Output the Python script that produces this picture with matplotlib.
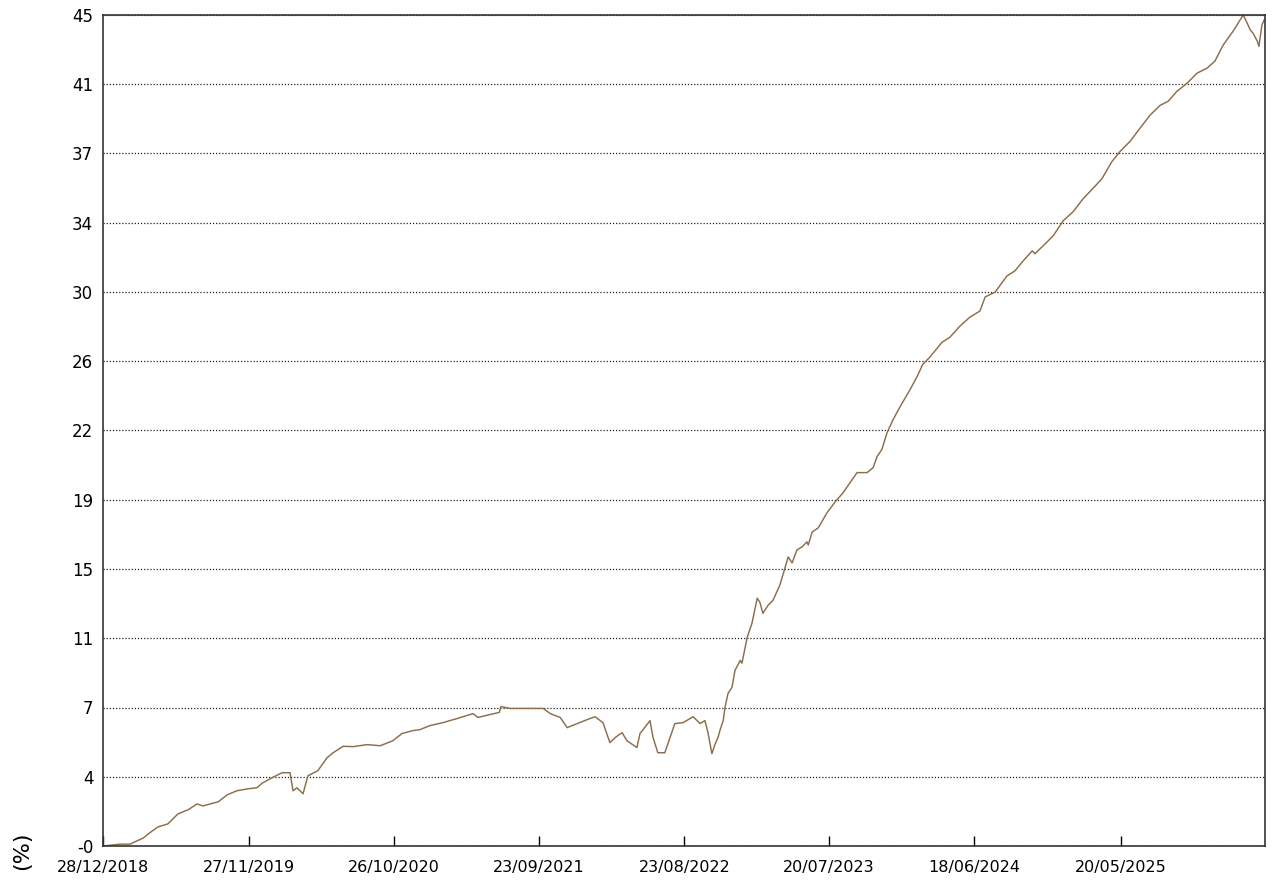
#!/usr/bin/env python3
"""Courbe de performance cumulée (%) - recréation"""

import matplotlib
matplotlib.use('Agg')
import matplotlib.pyplot as plt
import pandas as pd

start_date = '2018-12-28'
end_days = 2666

# jours depuis le 28/12/2018 et valeurs
days = [0, 39, 62, 92, 112, 126, 149, 172, 195, 216, 229, 264, 285, 307, 333,
        353, 365, 388, 411, 429, 436, 445, 459, 470, 493, 514, 528, 551, 574,
        606, 636, 665, 686, 711, 727, 750, 780, 812, 849, 860, 888, 909, 913,
        934, 964, 1010, 1026, 1049, 1065, 1088, 1117, 1129, 1147, 1163, 1175,
        1191, 1202, 1225, 1232, 1250, 1255, 1262, 1273, 1289, 1301, 1312, 1331,
        1354, 1370, 1381, 1388, 1397, 1404, 1411, 1416, 1423, 1427, 1434, 1443,
        1450, 1462, 1466, 1478, 1489, 1501, 1507, 1514, 1526, 1537, 1553, 1565,
        1572, 1581, 1592, 1604, 1615, 1618, 1627, 1641, 1661, 1680, 1698, 1719,
        1730, 1753, 1767, 1776, 1787, 1799, 1813, 1829, 1852, 1868, 1881, 1897,
        1925, 1943, 1966, 1989, 2012, 2024, 2047, 2074, 2092, 2111, 2132, 2138,
        2157, 2180, 2203, 2226, 2249, 2271, 2292, 2315, 2333, 2356, 2379, 2402,
        2425, 2444, 2464, 2487, 2510, 2533, 2551, 2570, 2593, 2616, 2625, 2632,
        2639, 2648, 2652, 2659, 2664]

values = [0.0, 0.1, 0.1, 0.43, 0.8, 1.03, 1.2, 1.74, 1.96, 2.28, 2.17, 2.39,
          2.77, 2.99, 3.1, 3.15, 3.4, 3.7, 3.97, 3.97, 2.99, 3.15, 2.83, 3.8,
          4.08, 4.78, 5.05, 5.4, 5.38, 5.49, 5.43, 5.7, 6.09, 6.25, 6.3, 6.52,
          6.68, 6.9, 7.17, 6.96, 7.12, 7.23, 7.55, 7.45, 7.45, 7.45, 7.17, 6.96,
          6.41, 6.63, 6.9, 7.0, 6.68, 5.6, 5.87, 6.14, 5.7, 5.33, 6.09, 6.63,
          6.79, 5.87, 5.05, 5.05, 5.87, 6.63, 6.68, 7.0, 6.63, 6.79, 6.14, 5.0,
          5.5, 5.87, 6.3, 6.79, 7.5, 8.26, 8.59, 9.51, 10.05, 9.9, 11.3, 12.07,
          13.42, 13.2, 12.6, 13.04, 13.3, 14.13, 15.1, 15.65, 15.33, 16.03,
          16.2, 16.47, 16.3, 17.0, 17.23, 18.04, 18.64, 19.13, 19.84, 20.22,
          20.22, 20.49, 21.09, 21.47, 22.39, 23.1, 23.8, 24.73, 25.43, 26.09,
          26.47, 27.28, 27.55, 28.15, 28.64, 28.97, 29.73, 30.0, 30.87, 31.14,
          31.68, 32.23, 32.07, 32.5, 33.04, 33.86, 34.35, 35.06, 35.6, 36.14,
          37.07, 37.6, 38.15, 38.86, 39.57, 40.1, 40.33, 40.87, 41.3, 41.85,
          42.12, 42.5, 43.37, 44.13, 45.0, 44.57, 44.2, 44.0, 43.6, 43.3,
          44.46, 44.73]

x_tick_dates = ['2018-12-28', '2019-11-27', '2020-10-26', '2021-09-23',
                '2022-08-23', '2023-07-20', '2024-06-18', '2025-05-20']
x_tick_labels = ['28/12/2018', '27/11/2019', '26/10/2020', '23/09/2021',
                 '23/08/2022', '20/07/2023', '18/06/2024', '20/05/2025']

y_ticks = [0, 3.75, 7.5, 11.25, 15, 18.75, 22.5, 26.25, 30, 33.75, 37.5, 41.25, 45]
y_tick_labels = ['-0', '4', '7', '11', '15', '19', '22', '26', '30', '34', '37', '41', '45']

line_color = '#8c6d4c'


def main():
    t0 = pd.Timestamp(start_date)
    dates = t0 + pd.to_timedelta(days, unit='D')

    fig = plt.figure(figsize=(12.73, 8.82), dpi=100)
    ax = fig.add_axes([103 / 1273, 1 - 846 / 882, (1265 - 103) / 1273, (846 - 15) / 882])

    ax.plot(dates, values, color=line_color, linewidth=1.05)

    ax.set_xlim(t0, t0 + pd.Timedelta(days=end_days))
    ax.set_ylim(0, 45)

    ax.set_yticks(y_ticks)
    ax.set_yticklabels(y_tick_labels)
    ax.set_xticks(pd.to_datetime(x_tick_dates))
    ax.set_xticklabels(x_tick_labels)

    ax.tick_params(axis='y', length=0, pad=7, labelsize=12, colors='black')
    ax.tick_params(axis='x', direction='in', length=7, width=1, pad=10,
                   labelsize=11.5, colors='black')

    ax.grid(axis='y', color='#222222', linestyle=(0, (1, 1.5)), linewidth=0.9)
    ax.grid(axis='x', visible=False)
    for s in ax.spines.values():
        s.set_linewidth(1.2)
        s.set_color('#333333')

    fig.text(22 / 1273, 1 - 851 / 882, '(%)', rotation=90, fontsize=16,
             ha='center', va='center')

    fig.savefig('out.png', dpi=100)


if __name__ == "__main__":
    main()
